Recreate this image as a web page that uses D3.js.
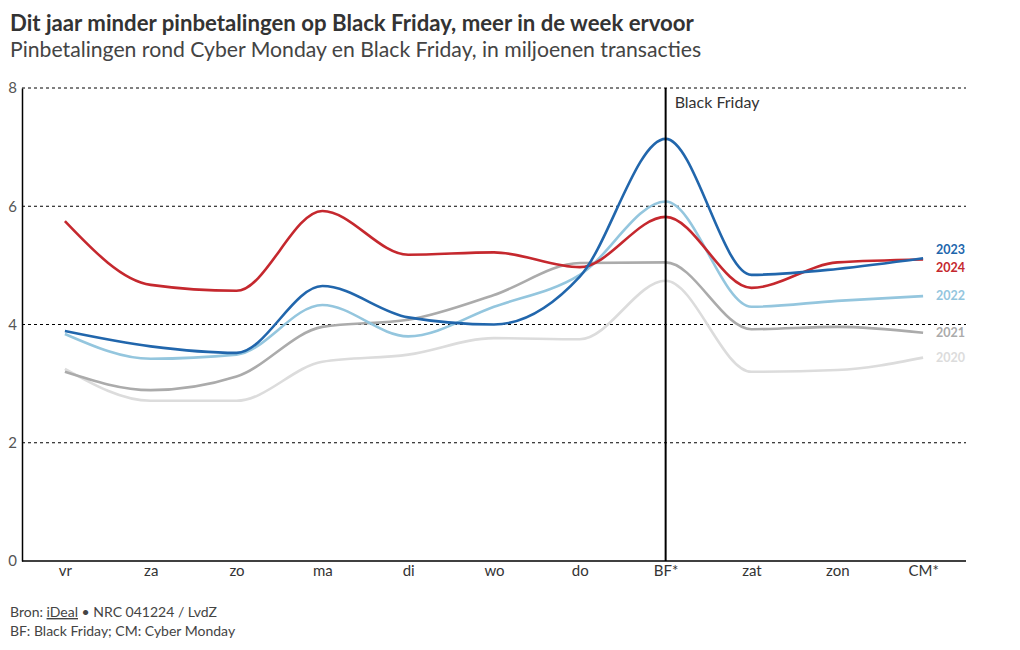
<!DOCTYPE html>
<html><head><meta charset="utf-8">
<script src="https://cdn.jsdelivr.net/npm/d3@7"></script>
<style>
body{margin:0;background:#fff;}
svg{font-family:Lato,"Open Sans",sans-serif;}
</style></head>
<body><svg id="c" width="1020" height="650"></svg>
<script>
const days = ["vr","za","zo","ma","di","wo","do","BF*","zat","zon","CM*"];
const years = ["2020","2021","2022","2024","2023"];
const v2020 = [3.25,2.71,2.71,3.37,3.49,3.77,3.75,4.74,3.2,3.23,3.44];
const v2021 = [3.2,2.89,3.12,3.96,4.08,4.5,5.04,5.05,3.92,3.96,3.86];
const v2022 = [3.84,3.42,3.49,4.33,3.8,4.3,4.84,6.08,4.3,4.4,4.48];
const v2023 = [3.89,3.63,3.52,4.65,4.12,4.0,4.81,7.14,4.84,4.94,5.12];
const v2024 = [5.75,4.67,4.57,5.92,5.18,5.22,4.97,5.82,4.62,5.05,5.1];
const yTicks = [0,2,4,6,8];
const colors = {"2020":"#dcdcdc","2021":"#ababab","2022":"#94c6de","2023":"#2166ac","2024":"#c5282e"};
const values = {"2020":v2020,"2021":v2021,"2022":v2022,"2023":v2023,"2024":v2024};

const svg = d3.select("#c");
const mLeft=22,mRight=966,mTop=88,mBottom=561;
const x = d3.scalePoint().domain(days).range([mLeft,mRight]).padding(0.5);
const y = d3.scaleLinear().domain([0,8]).range([mBottom,mTop]);

svg.append("text").attr("x",10).attr("y",31).attr("font-weight",700).attr("font-size",22.2).attr("fill","#333")
  .text("Dit jaar minder pinbetalingen op Black Friday, meer in de week ervoor");
svg.append("text").attr("x",10).attr("y",57).attr("font-size",21.2).attr("fill","#444")
  .text("Pinbetalingen rond Cyber Monday en Black Friday, in miljoenen transacties");

// grid
svg.append("g").selectAll("line").data(yTicks.filter(d=>d>0)).join("line")
  .attr("x1",mLeft).attr("x2",mRight).attr("y1",d=>y(d)).attr("y2",d=>y(d))
  .attr("stroke","#000").attr("stroke-width",1).attr("stroke-dasharray","3,3");

// y axis
const ya = svg.append("g").attr("transform",`translate(${mLeft},0)`).call(d3.axisLeft(y).tickValues(yTicks).tickSize(0).tickPadding(5));
ya.select(".domain").attr("stroke","#000").attr("stroke-width",1.5);
ya.selectAll("text").attr("font-size",15).attr("fill","#555").attr("font-family","Lato,sans-serif");

// x axis
const xa = svg.append("g").attr("transform",`translate(0,${mBottom})`).call(d3.axisBottom(x).tickSize(0).tickPadding(4));
xa.select(".domain").attr("d",`M${mLeft},0H${mRight}`).attr("stroke","#000").attr("stroke-width",1.5);
xa.selectAll("text").attr("font-size",15).attr("fill","#333").attr("font-family","Lato,sans-serif");

// lines
const line = d3.line().x((d,i)=>x(days[i])).y(d=>y(d)).curve(d3.curveMonotoneX);
years.forEach(yr=>{
  svg.append("path").attr("d",line(values[yr])).attr("fill","none").attr("stroke",colors[yr]).attr("stroke-width",2.6);
});

// Black Friday marker
svg.append("line").attr("x1",x("BF*")).attr("x2",x("BF*")).attr("y1",mTop).attr("y2",mBottom).attr("stroke","#000").attr("stroke-width",2);
svg.append("text").attr("x",x("BF*")+9).attr("y",108).attr("font-size",16).attr("fill","#333").text("Black Friday");

// end labels with collision avoidance
const last = days[days.length-1];
const labs = years.map(yr=>({yr,pos:y(values[yr][values[yr].length-1])})).sort((a,b)=>a.pos-b.pos);
for(let it=0;it<50;it++){
  for(let i=1;i<labs.length;i++){
    const gap = labs[i].pos-labs[i-1].pos;
    if(gap<18){const s=(18-gap)/2;labs[i].pos+=s;labs[i-1].pos-=s;}
  }
}
svg.append("g").selectAll("text").data(labs).join("text")
  .attr("x",x(last)+13).attr("y",d=>d.pos).attr("dy","0.35em")
  .attr("font-size",12.5).attr("font-weight",700).attr("fill",d=>colors[d.yr]).text(d=>d.yr);

// footer
const f1 = svg.append("text").attr("x",10).attr("y",617).attr("font-size",14).attr("fill","#444");
f1.append("tspan").text("Bron: ");
f1.append("tspan").attr("text-decoration","underline").text("iDeal");
f1.append("tspan").text(" • NRC 041224 / LvdZ");
svg.append("text").attr("x",10).attr("y",636).attr("font-size",14).attr("fill","#444").text("BF: Black Friday; CM: Cyber Monday");
</script></body></html>
